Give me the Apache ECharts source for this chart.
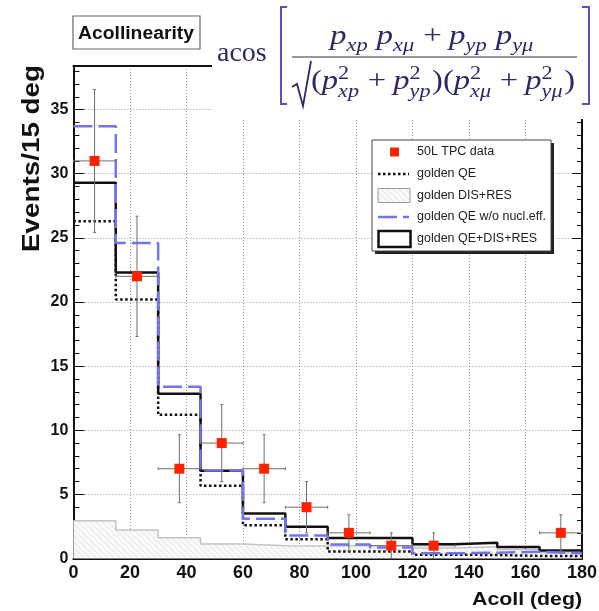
<!DOCTYPE html>
<html><head><meta charset="utf-8">
<script src="https://cdn.jsdelivr.net/npm/echarts@6/dist/echarts.min.js"></script>
<style>html,body{margin:0;padding:0;background:#fff}#c{width:599px;height:611px}</style>
</head><body><div id="c"></div>
<script>
// ---------------- data ----------------
const binEdges = [0, 15, 30, 45, 60, 75, 90, 105, 120, 135, 150, 165, 180];
const qeDisRes = [29.3, 22.3, 12.85, 6.85, 3.5, 2.47, 1.6, 1.6, 1.12, 1.23, 0.9, 0.63];
const qeOnly   = [26.3, 20.2, 11.2, 5.68, 2.6, 1.5, 0.55, 0.55, 0.3, 0.27, 0.2, 0.2];
const qeNoNucl = [33.7, 24.6, 13.4, 6.87, 3.1, 1.8, 1.1, 0.85, 0.4, 0.45, 0.53, 0.4];
const disRes   = [2.95, 2.22, 1.62, 1.13, 1.0, 0.97, 1.0, 1.0, 0.82, 0.92, 0.7, 0.45];
const dataX    = [7.5, 22.5, 37.5, 52.5, 67.5, 82.5, 97.5, 112.5, 127.5, 172.5];
const dataY    = [31, 22, 7, 9, 7, 4, 2, 1, 1, 2];
const dataErr  = [5.57, 4.69, 2.65, 3.0, 2.65, 2.0, 1.41, 1.0, 1.0, 1.41];
const dataXErr = [7.5, 7.5, 7.5, 7.5, 7.5, 7.5, 7.5, 7.5, 7.5, 7.5];
const legendNames = ['50L TPC data', 'golden QE', 'golden DIS+RES', 'golden QE w/o nucl.eff.', 'golden QE+DIS+RES'];
const titleText = 'Acollinearity';
const xTitle = 'Acoll (deg)';
const yTitle = 'Events/15 deg';
const xMin = 0, xMax = 180, xStep = 20;
const yMin = 0, yMax = 38.4, yStep = 5;

// ---------------- helpers ----------------
function steps(vals) {
  const pts = [];
  vals.forEach((v, i) => { pts.push([binEdges[i], v]); pts.push([binEdges[i + 1], v]); });
  return pts;
}
const mctx = document.createElement('canvas').getContext('2d');
function mw(text, size, italic, family, bold) {
  mctx.font = (italic ? 'italic ' : '') + (bold ? 'bold ' : '') + size + 'px ' + (family || 'Liberation Serif');
  return mctx.measureText(text).width;
}
// hatch pattern
const hatch = document.createElement('canvas');
hatch.width = 6; hatch.height = 6;
(function () {
  const c = hatch.getContext('2d');
  c.fillStyle = '#f9f9f9'; c.fillRect(0, 0, 6, 6);
  c.strokeStyle = '#e3e3e3'; c.lineWidth = 1;
  c.beginPath(); c.moveTo(-1, -1); c.lineTo(7, 7); c.stroke();
})();

// ------------- formula -------------
const MATH_COL = '#2c2a66';
function layoutRow(tokens, size) {
  const sub = size * 0.68;
  let x = 0; const out = [];
  tokens.forEach(tk => {
    const [t, k] = tk;
    if (k === 'm') { out.push({ t, x, dy: 0, size, it: true }); x += mw(t, size, true); }
    else if (k === 's') { out.push({ t, x, dy: 0.24 * size, size: sub, it: true }); x += mw(t, sub, true) + size * 0.05; }
    else if (k === 'g') { x += size * 0.22; }
    else if (k === 'op') { x += size * 0.22; out.push({ t, x, dy: 0, size, it: false }); x += mw(t, size, false) + size * 0.22; }
    else if (k === 'r') { out.push({ t, x, dy: 0, size, it: false }); x += mw(t, size, false); }
    else if (k === 'ss') {
      out.push({ t: t[0], x, dy: -0.4 * size, size: sub, it: false });
      out.push({ t: t[1], x, dy: 0.26 * size, size: sub, it: true });
      x += Math.max(mw(t[0], sub, false), mw(t[1], sub, true)) + size * 0.05;
    }
  });
  return { items: out, width: x };
}
function placeRow(row, x0, baseline, targetW) {
  const s = targetW / row.width;
  return row.items.map(it => ({
    type: 'text', x: x0 + it.x * s, y: baseline + it.dy - 0.34 * it.size, scaleX: s, z: 110,
    style: { text: it.t, x: 0, y: 0, fill: MATH_COL, fontSize: it.size, fontStyle: it.it ? 'italic' : 'normal',
      fontFamily: 'Liberation Serif', align: 'left', verticalAlign: 'middle' }
  }));
}
const numRow = layoutRow([['p','m'],['xp','s'],['','g'],['p','m'],['xμ','s'],['+','op'],['p','m'],['yp','s'],['','g'],['p','m'],['yμ','s']], 27);
const denRow = layoutRow([['(','r'],['p','m'],[['2','xp'],'ss'],['+','op'],['p','m'],[['2','yp'],'ss'],[')','r'],
  ['(','r'],['p','m'],[['2','xμ'],'ss'],['+','op'],['p','m'],[['2','yμ'],'ss'],[')','r']], 27);

const formula = [
  { type: 'rect', shape: { x: 212, y: 0, width: 387, height: 119 }, style: { fill: '#fff' }, z: 100 },
  { type: 'text', x: 217, y: 63 - 0.34 * 28, z: 110, style: { text: 'acos', fill: MATH_COL, fontSize: 28, fontFamily: 'Liberation Serif', align: 'left', verticalAlign: 'middle' } },
  { type: 'polyline', z: 110, shape: { points: [[287, 7], [281, 7], [281, 104], [287, 104]] }, style: { stroke: '#5b4fb5', lineWidth: 2, fill: null } },
  { type: 'polyline', z: 110, shape: { points: [[582, 7], [589, 7], [589, 104], [582, 104]] }, style: { stroke: '#5b4fb5', lineWidth: 2, fill: null } },
  { type: 'line', z: 110, shape: { x1: 292, y1: 57, x2: 577, y2: 57 }, style: { stroke: '#777', lineWidth: 1.6 } },
  { type: 'polyline', z: 110, shape: { points: [[292, 87], [297, 84], [303, 106], [311, 61]] }, style: { stroke: MATH_COL, lineWidth: 1.8, fill: null } },
  ...placeRow(numRow, 330, 46, 205),
  ...placeRow(denRow, 311, 91, 264)
];

// ------------- legend -------------
const LX = 372, LY = 140, LW = 179, LH = 111;
const rowY = [152, 174, 195.5, 217, 238.5];
const legend = [
  { type: 'rect', z: 100, shape: { x: LX + 3, y: LY + 3, width: LW, height: LH }, style: { fill: '#222' } },
  { type: 'rect', z: 101, shape: { x: LX, y: LY, width: LW, height: LH }, style: { fill: '#fff', stroke: '#444', lineWidth: 1 } },
  { type: 'rect', z: 102, shape: { x: 390, y: rowY[0] - 4.5, width: 9, height: 9 }, style: { fill: '#ff2200' } },
  { type: 'line', z: 102, shape: { x1: 378, y1: rowY[1], x2: 409, y2: rowY[1] }, style: { stroke: '#111', lineWidth: 2.5, lineDash: [2.5, 2.5] } },
  { type: 'rect', z: 102, shape: { x: 378, y: rowY[2] - 7, width: 32, height: 14 }, style: { fill: { image: hatch, repeat: 'repeat' }, stroke: '#999', lineWidth: 1 } },
  { type: 'line', z: 102, shape: { x1: 378, y1: rowY[3], x2: 409, y2: rowY[3] }, style: { stroke: '#7373f0', lineWidth: 2.5, lineDash: [19, 6] } },
  { type: 'rect', z: 102, shape: { x: 378.5, y: rowY[4] - 7.5, width: 32, height: 16 }, style: { fill: '#fff', stroke: '#111', lineWidth: 2.5 } },
  ...legendNames.map((n, i) => ({ type: 'text', z: 102, x: 417, y: rowY[i], style: { text: n, x: 0, y: 0, fill: '#222', fontSize: 12.5, fontFamily: 'Liberation Sans', align: 'left', verticalAlign: 'middle' } }))
];

// ------------- titles -------------
const titleW = mw(titleText, 18, false, 'Liberation Sans', true);
const yTitleW = mw(yTitle, 24, false, 'Liberation Sans', true);
const xTitleW = mw(xTitle, 19, false, 'Liberation Sans', true);
const titles = [
  { type: 'rect', z: 100, shape: { x: 73, y: 16, width: 127, height: 33 }, style: { fill: '#fff', stroke: '#666', lineWidth: 1.2 } },
  { type: 'text', z: 101, x: 136, y: 34, scaleX: 116 / titleW, style: { text: titleText, x: 0, y: 0, fill: '#111', fontSize: 18, fontWeight: 'bold', fontFamily: 'Liberation Sans', align: 'center', verticalAlign: 'middle' } },
  { type: 'text', z: 101, x: 32, y: 158.5, rotation: Math.PI / 2, scaleX: 187 / yTitleW, style: { text: yTitle, x: 0, y: 0, fill: '#111', fontSize: 24, fontWeight: 'bold', fontFamily: 'Liberation Sans', align: 'center', verticalAlign: 'middle' } },
  { type: 'text', z: 101, x: 582, y: 599.5, scaleX: 110 / xTitleW, style: { text: xTitle, x: 0, y: 0, fill: '#111', fontSize: 19, fontWeight: 'bold', fontFamily: 'Liberation Sans', align: 'right', verticalAlign: 'middle' } }
];

// ------------- chart -------------
const chart = echarts.init(document.getElementById('c'), null, { renderer: 'canvas' });
const gridSplit = { show: true, lineStyle: { color: '#9a9a9a', width: 1, type: [1, 2] } };
const option = {
  animation: false,
  backgroundColor: '#fff',
  grid: { left: 73.4, right: 17, top: 66, bottom: 52.5, containLabel: false, outerBoundsMode: 'none' },
  xAxis: [
    { type: 'value', min: xMin, max: xMax, interval: xStep, position: 'bottom',
      axisLine: { show: true, onZero: false, lineStyle: { color: '#111', width: 2 } },
      axisTick: { show: true, inside: true, length: 11, lineStyle: { color: '#111', width: 1 } },
      minorTick: { show: true, splitNumber: 4, length: 6, lineStyle: { color: '#111', width: 1 } },
      axisLabel: { show: true, margin: 6, color: '#111', fontSize: 18, fontWeight: 'bold', fontFamily: 'Liberation Sans' },
      splitLine: gridSplit },
    { type: 'value', min: xMin, max: xMax, position: 'top',
      axisLine: { show: true, onZero: false, lineStyle: { color: '#111', width: 2 } },
      axisTick: { show: false }, axisLabel: { show: false }, splitLine: { show: false } }
  ],
  yAxis: [
    { type: 'value', min: yMin, max: yMax, interval: yStep, position: 'left',
      axisLine: { show: true, onZero: false, lineStyle: { color: '#111', width: 2 } },
      axisTick: { show: true, inside: true, length: 11, lineStyle: { color: '#111', width: 1 } },
      minorTick: { show: true, splitNumber: 5, length: 6, lineStyle: { color: '#111', width: 1 } },
      axisLabel: { show: true, margin: 5, showMaxLabel: false, color: '#111', fontSize: 16, fontWeight: 'bold', fontFamily: 'Liberation Sans' },
      splitLine: gridSplit },
    { type: 'value', min: yMin, max: yMax, interval: yStep, position: 'right',
      axisLine: { show: true, onZero: false, lineStyle: { color: '#111', width: 2 } },
      axisTick: { show: true, inside: true, length: 10, lineStyle: { color: '#111', width: 1 } },
      minorTick: { show: true, splitNumber: 5, length: 5, lineStyle: { color: '#111', width: 1 } },
      axisLabel: { show: false }, splitLine: { show: false } }
  ],
  series: [
    { name: legendNames[2], type: 'line', data: steps(disRes), showSymbol: false, symbol: 'none', z: 2,
      lineStyle: { color: '#c4c4c4', width: 1.5 }, areaStyle: { color: { image: hatch, repeat: 'repeat' }, opacity: 1, origin: 'start' } },
    { name: legendNames[1], type: 'line', data: steps(qeOnly), showSymbol: false, symbol: 'none', z: 3,
      lineStyle: { color: '#111', width: 2.5, type: [2.5, 2.5] } },
    { name: legendNames[4], type: 'line', data: steps(qeDisRes), showSymbol: false, symbol: 'none', z: 4,
      lineStyle: { color: '#111', width: 2.5 } },
    { name: legendNames[3], type: 'line', data: steps(qeNoNucl), showSymbol: false, symbol: 'none', z: 5,
      lineStyle: { color: '#7373f0', width: 2.5, type: [19, 6] } },
    { name: 'errors', type: 'custom', z: 6,
      data: dataX.map((x, i) => [x, dataY[i], dataErr[i], dataXErr[i]]),
      renderItem: function (params, api) {
        const x = api.value(0), y = api.value(1), e = api.value(2), xe = api.value(3);
        const t = api.coord([x, y + e]), b = api.coord([x, Math.max(0, y - e)]);
        const l = api.coord([x - xe, y]), r = api.coord([x + xe, y]);
        const st = { stroke: '#6e6e6e', lineWidth: 1 };
        return { type: 'group', children: [
          { type: 'line', shape: { x1: t[0], y1: t[1], x2: b[0], y2: b[1] }, style: st },
          { type: 'line', shape: { x1: l[0], y1: l[1], x2: r[0], y2: r[1] }, style: st },
          { type: 'line', shape: { x1: t[0] - 1.5, y1: t[1], x2: t[0] + 1.5, y2: t[1] }, style: st },
          { type: 'line', shape: { x1: b[0] - 1.5, y1: b[1], x2: b[0] + 1.5, y2: b[1] }, style: st },
          { type: 'line', shape: { x1: l[0], y1: l[1] - 1.5, x2: l[0], y2: l[1] + 1.5 }, style: st },
          { type: 'line', shape: { x1: r[0], y1: r[1] - 1.5, x2: r[0], y2: r[1] + 1.5 }, style: st }
        ] };
      } },
    { name: legendNames[0], type: 'scatter', z: 7, symbol: 'rect', symbolSize: 10,
      data: dataX.map((x, i) => [x, dataY[i]]), itemStyle: { color: '#ff2200', opacity: 1 } }
  ],
  graphic: [...formula, ...legend, ...titles]
};
chart.setOption(option);
</script></body></html>
